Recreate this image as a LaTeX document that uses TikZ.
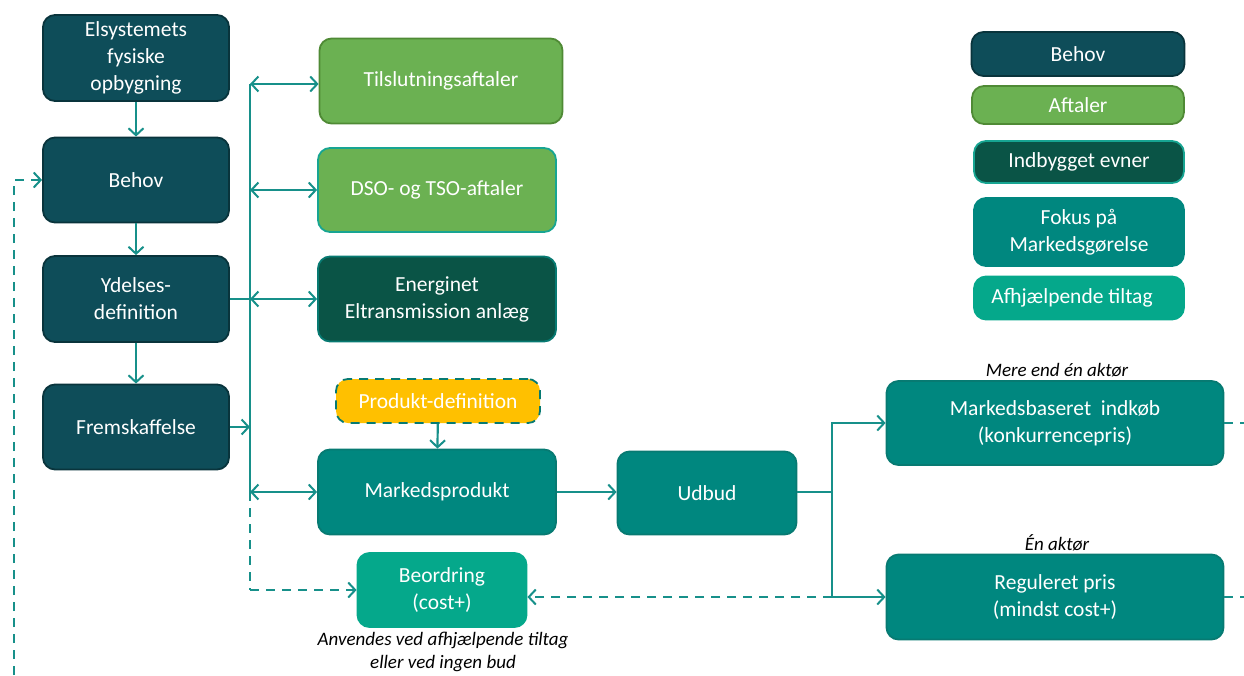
\documentclass[tikz,border=0pt]{standalone}
\usepackage{fontspec}
\setmainfont{Carlito}
\usetikzlibrary{arrows.meta}
\definecolor{behovc}{HTML}{0E4D59}
\definecolor{behovb}{HTML}{09343C}
\definecolor{aftc}{HTML}{6BB152}
\definecolor{aftb}{HTML}{4F8A35}
\definecolor{indc}{HTML}{0A5446}
\definecolor{indb}{HTML}{17A592}
\definecolor{fokc}{HTML}{00877F}
\definecolor{fokb}{HTML}{077A72}
\definecolor{afhc}{HTML}{05A88B}
\definecolor{linec}{HTML}{17908A}
\definecolor{yelc}{HTML}{FFC000}
\tikzset{
  box/.style={rounded corners=12pt, line width=1.8pt, text=white, align=center,
    font=\fontsize{21.5}{27}\selectfont, inner sep=2pt},
  behovbox/.style={box, fill=behovc, draw=behovb},
  aftbox/.style={box, fill=aftc, draw=aftb},
  indbox/.style={box, fill=indc, draw=indb},
  fokbox/.style={box, fill=fokc, draw=fokb},
  afhbox/.style={box, fill=afhc, draw=afhc},
  lbl/.style={font=\fontsize{19}{22.5}\selectfont\itshape, align=center, text=black, inner sep=0pt},
  conn/.style={draw=linec, line width=2.2pt},
  tip/.style={-{Straight Barb[length=7pt,width=15pt,line width=2pt]}},
  dtip/.style={{Straight Barb[length=7pt,width=15pt,line width=2pt]}-{Straight Barb[length=7pt,width=15pt,line width=2pt]}},
  dsh/.style={dash pattern=on 9pt off 7pt},
}
\begin{document}
\begin{tikzpicture}[x=1pt,y=-1pt]
\useasboundingbox (0,0) rectangle (1244,675);
% left column
\node[behovbox, minimum width=186, minimum height=86] (els) at (136,58) {Elsystemets\\fysiske\\opbygning};
\node[behovbox, minimum width=186, minimum height=85] (beh) at (136,180) {Behov};
\node[behovbox, minimum width=186, minimum height=86] (yd) at (136,299) {Ydelses-\\definition};
\node[behovbox, minimum width=186, minimum height=85] (frem) at (136,427) {Fremskaffelse};
% middle column
\node[aftbox, minimum width=243, minimum height=85] (til) at (441,81) {Tilslutningsaftaler};
\node[aftbox, draw=indb, minimum width=238, minimum height=84] (dso) at (437,190) {DSO- og TSO-aftaler};
\node[indbox, draw=fokb, minimum width=238, minimum height=85] (en) at (437,299) {Energinet\\Eltransmission anlæg};
\node[box, fill=yelc, draw=fokb, dsh, minimum width=204, minimum height=44] (pd) at (438,401) {Produkt-definition};
\node[fokbox, minimum width=238, minimum height=85] (mp) at (437,492) {Markedsprodukt};
\node[afhbox, minimum width=169, minimum height=74] (beo) at (442,590) {Beordring\\(cost+)};
\node[lbl] (beolbl) at (443,652) {Anvendes ved afhjælpende tiltag\\eller ved ingen bud};
% right part
\node[fokbox, minimum width=179, minimum height=83] (ud) at (707,493) {Udbud};
\node[fokbox, minimum width=337, minimum height=84] (mb) at (1055,423) {Markedsbaseret\ \ indkøb\\(konkurrencepris)};
\node[lbl, anchor=south] (mblbl) at (1057,377) {Mere end én aktør};
\node[fokbox, minimum width=337, minimum height=85] (rp) at (1055,597) {Reguleret pris\\(mindst cost+)};
\node[lbl, anchor=south] (rplbl) at (1057,551) {Én aktør};
% legend
\node[behovbox, minimum width=213, minimum height=44] (lg1) at (1078,54) {Behov};
\node[aftbox, minimum width=212, minimum height=38] (lg2) at (1078,105) {Aftaler};
\node[indbox, minimum width=210, minimum height=42] (lg3) at (1079,162) {Indbygget evner};
\node[fokbox, draw=fokc, minimum width=210, minimum height=68] (lg4) at (1079,232) {Fokus på\\Markedsgørelse};
\node[afhbox, minimum width=210, minimum height=43] (lg5) at (1079,298) {Afhjælpende tiltag\kern14pt};
% coordinates
\coordinate (bus) at (250,0);
\coordinate (bustop) at (250,84);
\coordinate (busmp) at (250,492);
\coordinate (busbeo) at (250,590);
\coordinate (br) at (832,0);
\coordinate (fbl) at (14,675);
\coordinate (edge1) at (1244,423);
\coordinate (edge2) at (1244,597);
% connectors
\draw[conn, tip] (els) -- (beh);
\draw[conn, tip] (beh) -- (yd);
\draw[conn, tip] (yd) -- (frem);
\draw[conn] (bustop) -- (busmp);
\draw[conn, dsh] (busmp) -- (busbeo);
\draw[conn, dsh, tip] (busbeo) -- (beo.west);
\draw[conn, dtip] (bustop) -- (bustop -| til.west);
\draw[conn, dtip] (bus |- dso.west) -- (dso.west);
\draw[conn] (yd.east) -- (bus |- yd.east);
\draw[conn, dtip] (bus |- en.west) -- (en.west);
\draw[conn, tip] (frem.east) -- (bus |- frem.east);
\draw[conn, dtip] (busmp) -- (mp.west);
\draw[conn, tip] (pd) -- (mp);
\draw[conn, tip] (mp.east) -- (ud.west |- mp.east);
\draw[conn] (ud.east |- mp.east) -- (br |- mp.east);
\draw[conn, tip] (br |- mp.east) |- (mb.west);
\draw[conn, tip] (br |- mp.east) |- (rp.west);
\draw[conn, dsh, tip] (br |- rp.west) -- (beo.east |- rp.west);
\draw[conn, dsh] (mb.east) -- (edge1);
\draw[conn, dsh] (rp.east) -- (edge2);
\draw[conn, dsh, tip] (fbl) |- (beh.west);
\end{tikzpicture}
\end{document}
